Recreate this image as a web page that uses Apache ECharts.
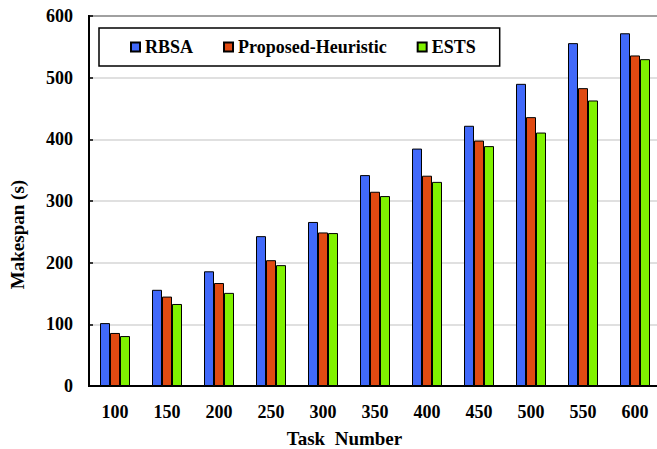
<!DOCTYPE html>
<html>
<head>
<meta charset="utf-8">
<script src="https://cdn.jsdelivr.net/npm/echarts@6/dist/echarts.min.js"></script>
<style>html,body{margin:0;padding:0;background:#fff;}#c{width:657px;height:449px;}</style>
</head>
<body>
<div id="c"></div>
<script>
var categories = ['100','150','200','250','300','350','400','450','500','550','600'];
var rbsa = [102, 156, 186, 243, 266, 342, 385, 422, 490, 556, 572];
var proposed = [86, 145, 167, 204, 249, 315, 341, 398, 436, 483, 536];
var ests = [81, 133, 151, 196, 248, 308, 331, 389, 411, 463, 530];
var seriesNames = ['RBSA', 'Proposed-Heuristic', 'ESTS'];
var yTicks = {min: 0, max: 600, interval: 100};

var FONT = '"Liberation Serif", "Times New Roman", serif';
var colors = ['#4169FA', '#E04A12', '#80F200'];
var chart = echarts.init(document.getElementById('c'), null, {renderer: 'svg'});
function mkSeries(name, data, i) {
  return {
    name: name, type: 'bar', data: data, barWidth: 10, barGap: '0%',
    itemStyle: {color: colors[i], borderColor: '#000', borderWidth: 1},
    emphasis: {disabled: true}
  };
}
chart.setOption({
  animation: false,
  textStyle: {fontFamily: FONT},
  grid: {left: 89, top: 16, width: 572, height: 370, containLabel: false, outerBoundsMode: 'none',
         show: true, borderColor: '#000', borderWidth: 2, backgroundColor: 'transparent'},
  legend: {
    left: 99, top: 28, padding: [10, 24, 10, 31], itemGap: 30,
    borderColor: '#000', borderWidth: 1.5, backgroundColor: '#fff',
    icon: 'rect', itemWidth: 9, itemHeight: 9,
    textStyle: {fontFamily: FONT, fontWeight: 'bold', fontSize: 18, color: '#000'},
    data: seriesNames
  },
  xAxis: {
    type: 'category', data: categories,
    axisLine: {lineStyle: {color: '#000', width: 2}},
    axisTick: {inside: true, length: 4, lineStyle: {color: '#000', width: 1.5}},
    axisLabel: {fontFamily: FONT, fontWeight: 'bold', fontSize: 18, color: '#000', margin: 17},
    name: 'Task  Number', nameLocation: 'middle', nameGap: 43,
    nameTextStyle: {fontFamily: FONT, fontWeight: 'bold', fontSize: 19, color: '#000', padding: [0, 61, 0, 0]}
  },
  yAxis: {
    type: 'value', min: yTicks.min, max: yTicks.max, interval: yTicks.interval,
    axisLine: {show: true, lineStyle: {color: '#000', width: 2}},
    axisTick: {show: true, inside: true, length: 4, lineStyle: {color: '#000', width: 1.5}},
    axisLabel: {fontFamily: FONT, fontWeight: 'bold', fontSize: 18, color: '#000', margin: 16},
    splitLine: {show: true, lineStyle: {color: '#d6d6d6', width: 1.5}},
    name: 'Makespan (s)', nameLocation: 'middle', nameGap: 62,
    nameTextStyle: {fontFamily: FONT, fontWeight: 'bold', fontSize: 19, color: '#000', padding: [0, 67, 0, 0]}
  },
  series: [mkSeries(seriesNames[0], rbsa, 0), mkSeries(seriesNames[1], proposed, 1), mkSeries(seriesNames[2], ests, 2)]
});
</script>
</body>
</html>
